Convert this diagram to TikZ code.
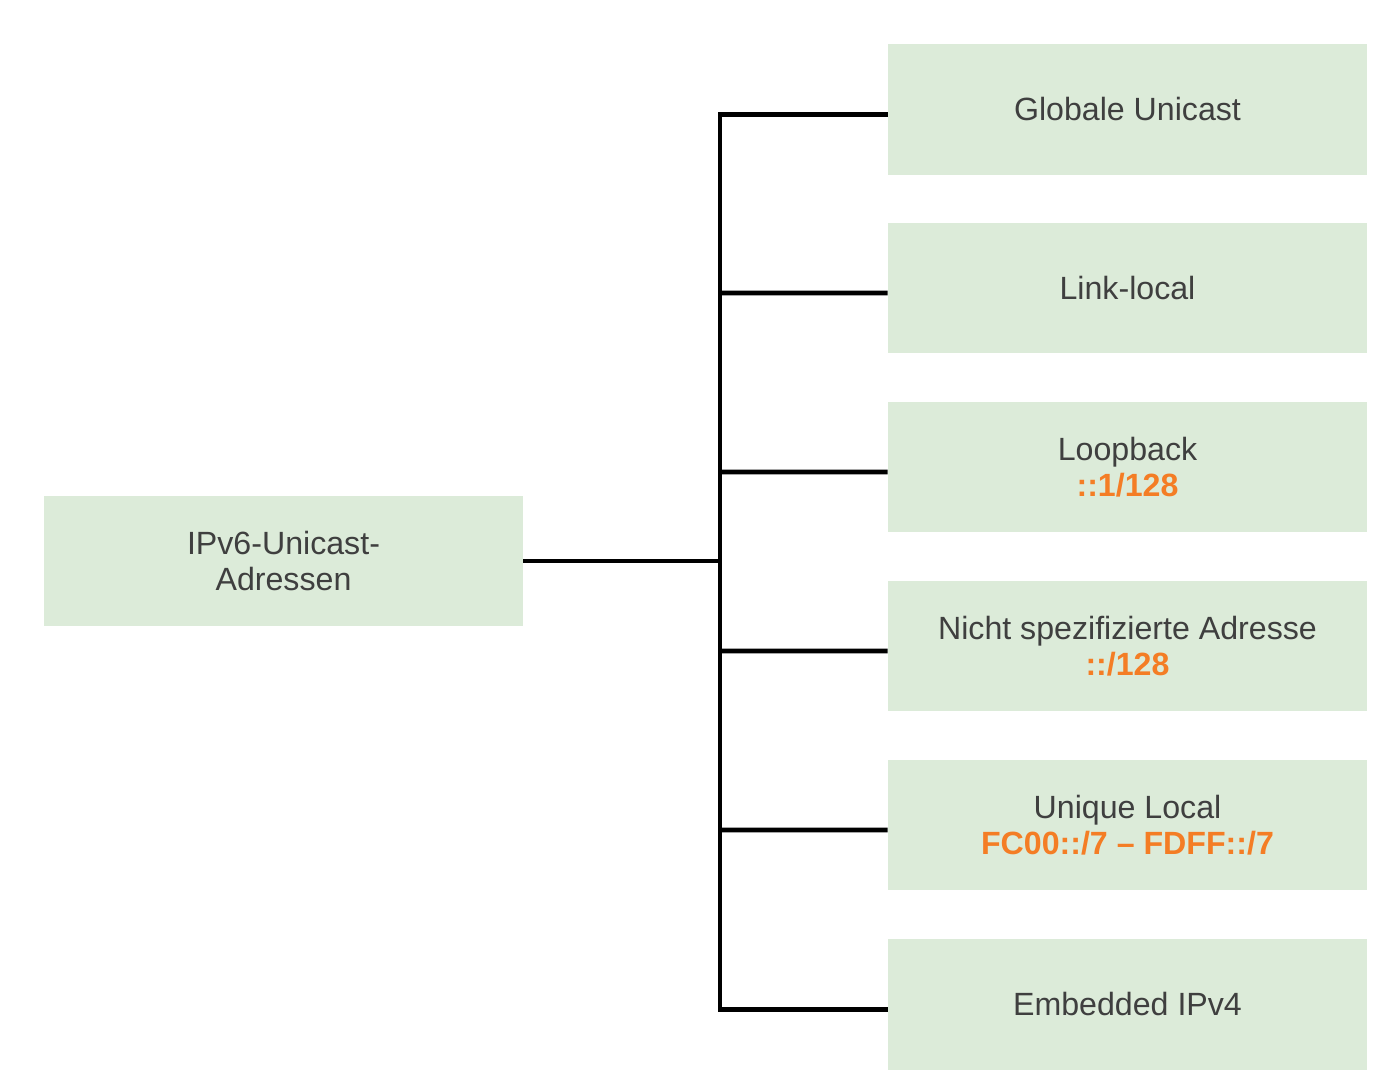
\documentclass[tikz,border=0pt]{standalone}
\usepackage{fontspec}
\setmainfont{Liberation Sans}
\definecolor{boxgreen}{HTML}{DCEBD9}
\definecolor{textgray}{HTML}{3F3F3F}
\definecolor{addrorange}{HTML}{F47D25}
\newcommand{\addr}[1]{\textcolor{addrorange}{\bfseries #1}}
\begin{document}
\begin{tikzpicture} [
            x=0.02cm, y=-0.02cm,
            block/.style={rectangle,fill=boxgreen,text=textgray,minimum width=9.58cm,minimum height=2.62cm,
                inner sep=0pt,align=center,font=\fontsize{18.3}{20.6}\selectfont},
            edge/.style = {draw,line width=2.7pt,-,line join=miter},
        ]
        \useasboundingbox (0,0) rectangle (1380,1084);
        \node[block] (root) at (283.5,561) {IPv6-Unicast-\\Adressen};
        \node[block] (glob) at (1127.5,109.5) {Globale Unicast};
        \node[block] (link) at (1127.5,288) {Link-local};
        \node[block] (loop) at (1127.5,467) {Loopback\\\addr{::1/128}};
        \node[block] (unspec) at (1127.5,646) {Nicht spezifizierte Adresse\\\addr{::/128}};
        \node[block] (uniq) at (1127.5,825) {Unique Local\\\addr{FC00::/7 -- FDFF::/7}};
        \node[block] (embed) at (1127.5,1004.5) {Embedded IPv4};
        \coordinate (hub) at (720,561);
        \path[edge] ([yshift=-0.1cm]glob.west) -| (hub) |- ([yshift=-0.1cm]embed.west);
        \path[edge] (root) -- (hub);
        \foreach \dest in {link,loop,unspec,uniq}
            \path[edge] (hub |- \dest.west) ++(0,5) -- ([yshift=-0.1cm]\dest.west);
    \end{tikzpicture}
\end{document}
